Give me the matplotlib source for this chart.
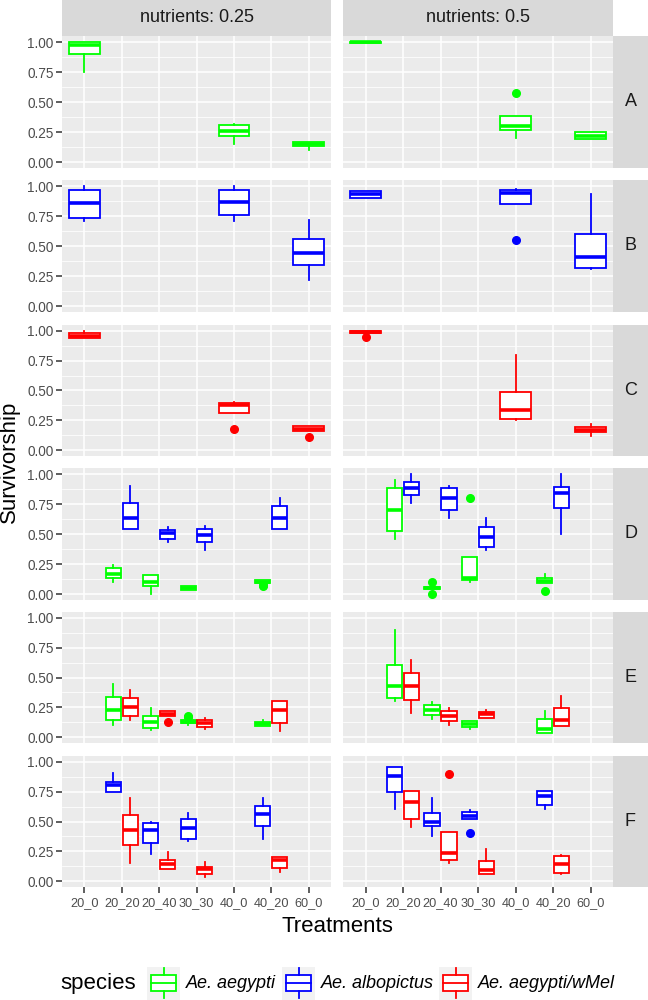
import matplotlib
matplotlib.use("Agg")
import matplotlib.pyplot as plt
from matplotlib.patches import Rectangle

plt.rcParams['font.family'] = ['Liberation Sans', 'DejaVu Sans']

# categories
treatments = ["20_0", "20_20", "20_40", "30_30", "40_0", "40_20", "60_0"]
nutrients = ["0.25", "0.5"]
rows = ["A", "B", "C", "D", "E", "F"]
species = ["Ae. aegypti", "Ae. albopictus", "Ae. aegypti/wMel"]
species_colors = ["#00FF00", "#0000FF", "#FF0000"]

# (nutrient column, treatment, species, whislo, q1, median, q3, whishi, outliers)
boxes_A = [
    (0, "20_0", 0, 0.75, 0.90, 0.975, 1.00, 1.00, []),
    (0, "40_0", 0, 0.15, 0.22, 0.26, 0.31, 0.32, []),
    (0, "60_0", 0, 0.10, 0.13, 0.15, 0.17, 0.17, []),
    (1, "20_0", 0, 0.99, 0.99, 1.0, 1.0, 1.0, []),
    (1, "40_0", 0, 0.20, 0.27, 0.30, 0.385, 0.385, [0.575]),
    (1, "60_0", 0, 0.19, 0.19, 0.22, 0.25, 0.25, []),
]
boxes_B = [
    (0, "20_0", 1, 0.705, 0.735, 0.855, 0.965, 1.0, []),
    (0, "40_0", 1, 0.705, 0.755, 0.87, 0.965, 1.0, []),
    (0, "60_0", 1, 0.22, 0.34, 0.445, 0.555, 0.715, []),
    (1, "20_0", 1, 0.90, 0.90, 0.93, 0.955, 0.955, []),
    (1, "40_0", 1, 0.85, 0.85, 0.945, 0.965, 0.975, [0.55]),
    (1, "60_0", 1, 0.31, 0.315, 0.405, 0.60, 0.93, []),
]
boxes_C = [
    (0, "20_0", 2, 0.94, 0.94, 0.96, 0.98, 1.0, []),
    (0, "40_0", 2, 0.31, 0.31, 0.375, 0.395, 0.405, [0.18]),
    (0, "60_0", 2, 0.16, 0.16, 0.18, 0.20, 0.20, [0.11]),
    (1, "20_0", 2, 0.98, 0.98, 0.99, 1.0, 1.0, [0.95]),
    (1, "40_0", 2, 0.255, 0.26, 0.335, 0.485, 0.80, []),
    (1, "60_0", 2, 0.12, 0.15, 0.17, 0.195, 0.215, []),
]
boxes_D = [
    (0, "20_20", 0, 0.10, 0.135, 0.17, 0.215, 0.245, []),
    (0, "20_20", 1, 0.545, 0.545, 0.63, 0.755, 0.90, []),
    (0, "20_40", 0, 0.0, 0.07, 0.10, 0.155, 0.16, []),
    (0, "20_40", 1, 0.43, 0.455, 0.505, 0.535, 0.555, []),
    (0, "30_30", 0, 0.03, 0.03, 0.05, 0.07, 0.07, []),
    (0, "30_30", 1, 0.365, 0.435, 0.49, 0.545, 0.565, []),
    (0, "40_20", 0, 0.09, 0.09, 0.10, 0.115, 0.115, [0.07, 0.075]),
    (0, "40_20", 1, 0.545, 0.545, 0.63, 0.735, 0.80, []),
    (1, "20_20", 0, 0.455, 0.525, 0.70, 0.88, 0.95, []),
    (1, "20_20", 1, 0.755, 0.825, 0.88, 0.93, 1.0, []),
    (1, "20_40", 0, 0.04, 0.04, 0.05, 0.06, 0.06, [0.0, 0.10]),
    (1, "20_40", 1, 0.63, 0.70, 0.80, 0.88, 0.90, []),
    (1, "30_30", 0, 0.10, 0.12, 0.13, 0.305, 0.305, [0.80]),
    (1, "30_30", 1, 0.37, 0.39, 0.475, 0.56, 0.63, []),
    (1, "40_20", 0, 0.095, 0.095, 0.11, 0.135, 0.17, [0.025]),
    (1, "40_20", 1, 0.50, 0.72, 0.84, 0.895, 1.0, []),
]
boxes_E = [
    (0, "20_20", 0, 0.10, 0.14, 0.23, 0.34, 0.445, []),
    (0, "20_20", 2, 0.145, 0.18, 0.255, 0.325, 0.395, []),
    (0, "20_40", 0, 0.055, 0.08, 0.125, 0.175, 0.245, []),
    (0, "20_40", 2, 0.175, 0.175, 0.195, 0.215, 0.22, [0.125]),
    (0, "30_30", 0, 0.105, 0.12, 0.13, 0.145, 0.145, [0.165, 0.175]),
    (0, "30_30", 2, 0.07, 0.085, 0.115, 0.145, 0.16, []),
    (0, "40_20", 0, 0.095, 0.095, 0.11, 0.125, 0.14, []),
    (0, "40_20", 2, 0.05, 0.12, 0.225, 0.30, 0.30, []),
    (1, "20_20", 0, 0.30, 0.33, 0.425, 0.605, 0.90, []),
    (1, "20_20", 2, 0.20, 0.31, 0.425, 0.54, 0.645, []),
    (1, "20_40", 0, 0.15, 0.185, 0.23, 0.265, 0.295, []),
    (1, "20_40", 2, 0.10, 0.135, 0.18, 0.215, 0.245, []),
    (1, "30_30", 0, 0.07, 0.085, 0.11, 0.135, 0.135, []),
    (1, "30_30", 2, 0.16, 0.16, 0.19, 0.21, 0.225, []),
    (1, "40_20", 0, 0.03, 0.035, 0.065, 0.15, 0.22, []),
    (1, "40_20", 2, 0.09, 0.09, 0.145, 0.24, 0.345, []),
]
boxes_F = [
    (0, "20_20", 1, 0.75, 0.75, 0.805, 0.835, 0.905, []),
    (0, "20_20", 2, 0.15, 0.30, 0.43, 0.555, 0.70, []),
    (0, "20_40", 1, 0.23, 0.32, 0.425, 0.485, 0.50, []),
    (0, "20_40", 2, 0.10, 0.10, 0.145, 0.18, 0.245, []),
    (0, "30_30", 1, 0.34, 0.355, 0.445, 0.52, 0.57, []),
    (0, "30_30", 2, 0.035, 0.055, 0.10, 0.12, 0.16, []),
    (0, "40_20", 1, 0.355, 0.46, 0.565, 0.63, 0.70, []),
    (0, "40_20", 2, 0.08, 0.11, 0.18, 0.205, 0.205, []),
    (1, "20_20", 1, 0.605, 0.75, 0.885, 0.955, 0.955, []),
    (1, "20_20", 2, 0.45, 0.52, 0.66, 0.755, 0.755, []),
    (1, "20_40", 1, 0.375, 0.465, 0.50, 0.575, 0.70, []),
    (1, "20_40", 2, 0.15, 0.18, 0.235, 0.415, 0.415, [0.90]),
    (1, "30_30", 1, 0.52, 0.52, 0.55, 0.58, 0.60, [0.40]),
    (1, "30_30", 2, 0.055, 0.06, 0.095, 0.17, 0.265, []),
    (1, "40_20", 1, 0.605, 0.635, 0.71, 0.755, 0.755, []),
    (1, "40_20", 2, 0.055, 0.065, 0.145, 0.21, 0.22, []),
]
boxes = {"A": boxes_A, "B": boxes_B, "C": boxes_C,
         "D": boxes_D, "E": boxes_E, "F": boxes_F}

W, H = 648, 1000
fig = plt.figure(figsize=(W / 100, H / 100), dpi=100)


def rect(x0, y0, x1, y1):
    # pixel box -> figure fraction
    return [x0 / W, 1 - y1 / H, (x1 - x0) / W, (y1 - y0) / H]


col_x = [(62, 331), (343, 613)]
row_y = [(36, 168), (180, 312), (325, 456), (468, 600), (612, 743), (756, 887)]
strip_col = "#D9D9D9"
lw = 1.3

# top strips
for c, (x0, x1) in enumerate(col_x):
    sax = fig.add_axes(rect(x0, 0, x1, 36))
    sax.set_facecolor(strip_col)
    sax.set_xticks([]); sax.set_yticks([])
    for s in sax.spines.values():
        s.set_visible(False)
    sax.text(0.5, 0.5, "nutrients: " + nutrients[c], ha="center", va="center",
             fontsize=13, color="#1A1A1A", transform=sax.transAxes)

for r, row in enumerate(rows):
    y0, y1 = row_y[r]
    # right strip
    sax = fig.add_axes(rect(613, y0, 648, y1))
    sax.set_facecolor(strip_col)
    sax.set_xticks([]); sax.set_yticks([])
    for s in sax.spines.values():
        s.set_visible(False)
    sax.text(0.5, 0.5, row, ha="center", va="center", fontsize=13,
             color="#1A1A1A", transform=sax.transAxes)

    for c, (x0, x1) in enumerate(col_x):
        ax = fig.add_axes(rect(x0, y0, x1, y1))
        ax.set_facecolor("#EBEBEB")
        for s in ax.spines.values():
            s.set_visible(False)
        ax.set_xlim(0.4, len(treatments) + 0.6)
        ax.set_ylim(-0.05, 1.05)
        ax.set_yticks([0, 0.25, 0.5, 0.75, 1.0])
        ax.set_yticks([0.125, 0.375, 0.625, 0.875], minor=True)
        ax.set_xticks(range(1, len(treatments) + 1))
        ax.grid(True, which="major", color="white", linewidth=1.1)
        ax.grid(True, which="minor", axis="y", color="white", linewidth=0.55)
        ax.set_axisbelow(True)
        ax.tick_params(which="minor", length=0)
        ax.tick_params(which="major", length=4, width=1.1, color="#333333",
                       labelcolor="#4D4D4D", labelsize=9.8, pad=2)
        if c == 0:
            ax.set_yticklabels(["0.00", "0.25", "0.50", "0.75", "1.00"])
        else:
            ax.tick_params(axis="y", length=0, labelleft=False)
        if r == len(rows) - 1:
            ax.set_xticklabels(treatments)
            ax.tick_params(axis="x", labelsize=9.2, pad=3)
        else:
            ax.tick_params(axis="x", length=0, labelbottom=False)

        recs = [b for b in boxes[row] if b[0] == c]
        for ti, t in enumerate(treatments):
            group = sorted([b for b in recs if b[1] == t], key=lambda b: b[2])
            n = len(group)
            for k, b in enumerate(group):
                slot = 0.9 / n
                pos = ti + 1 - 0.45 + slot * (k + 0.5)
                width = slot * 0.9
                col = species_colors[b[2]]
                stat = dict(whislo=b[3], q1=b[4], med=b[5], q3=b[6],
                            whishi=b[7], fliers=b[8])
                ax.bxp([stat], positions=[pos], widths=[width],
                       patch_artist=True, showcaps=False, manage_ticks=False,
                       boxprops=dict(facecolor="white", edgecolor=col, linewidth=lw),
                       medianprops=dict(color=col, linewidth=lw * 2),
                       whiskerprops=dict(color=col, linewidth=lw),
                       flierprops=dict(marker="o", markerfacecolor=col,
                                       markeredgecolor=col, markersize=5.5,
                                       linestyle="none"))

fig.text(9 / W, 1 - 462 / H, "Survivorship", rotation=90, ha="center",
         va="center", fontsize=16)
fig.text(337 / W, 1 - 926 / H, "Treatments", ha="center", va="center",
         fontsize=16)

# legend
lax = fig.add_axes([0, 0, 1, 1], facecolor="none")
lax.set_xlim(0, W)
lax.set_ylim(H, 0)
lax.axis("off")
lax.text(60, 983, "species", ha="left", va="center", fontsize=16)
key_x = [147, 282, 439]
for i, sp in enumerate(species):
    kx = key_x[i]
    col = species_colors[i]
    lax.add_patch(Rectangle((kx, 967), 33, 33, facecolor="#F2F2F2", edgecolor="none"))
    lax.plot([kx + 16.5, kx + 16.5], [968, 975], color=col, lw=lw)
    lax.plot([kx + 16.5, kx + 16.5], [991, 998], color=col, lw=lw)
    lax.add_patch(Rectangle((kx + 4, 975), 25, 16, facecolor="white",
                            edgecolor=col, linewidth=lw))
    lax.plot([kx + 4, kx + 29], [983, 983], color=col, lw=lw)
    lax.text(kx + 39, 983, sp, ha="left", va="center", fontsize=13,
             style="italic")

fig.savefig("out.png", dpi=100)
